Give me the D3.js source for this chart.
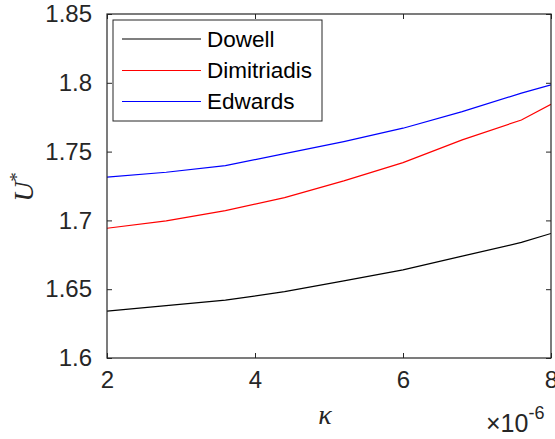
<!DOCTYPE html>
<html>
<head>
<meta charset="utf-8">
<script src="https://cdn.jsdelivr.net/npm/d3@7/dist/d3.min.js"></script>
<style>
  html, body { margin: 0; padding: 0; background: #fff; }
  svg { display: block; }
</style>
</head>
<body>
<svg id="chart" width="555" height="439"></svg>
<script>
// Critical speed U* versus kappa (values in units of 1e-6)
const kappa       = [2.0, 2.8, 3.6, 4.4, 5.2, 6.0, 6.8, 7.6, 8.0];
const dowell      = [1.6340, 1.6380, 1.6420, 1.6482, 1.6560, 1.6640, 1.6740, 1.6840, 1.6905];
const dimitriadis = [1.6943, 1.6996, 1.7071, 1.7166, 1.7287, 1.7420, 1.7585, 1.7730, 1.7844];
const edwards     = [1.7314, 1.7350, 1.7398, 1.7485, 1.7573, 1.7670, 1.7790, 1.7925, 1.7985];

const seriesNames  = ["Dowell", "Dimitriadis", "Edwards"];
const seriesColors = ["#000000", "#ff0000", "#0000ff"];
const seriesValues = [dowell, dimitriadis, edwards];

const xTicks = [2, 4, 6, 8];
const yTicks = [1.6, 1.65, 1.7, 1.75, 1.8, 1.85];
const xExponent = "-6";

(function draw() {
  const svg = d3.select("#chart");
  const axisColor = "#262626";

  const mLeft = 107, mRight = 551, mTop = 14, mBottom = 358;

  const x = d3.scaleLinear().domain([2, 8]).range([mLeft, mRight]);
  const y = d3.scaleLinear().domain([1.6, 1.85]).range([mBottom, mTop]);

  const font = "'Liberation Sans', Arial, Helvetica, sans-serif";
  const serif = "'Liberation Serif', 'Times New Roman', serif";

  // data lines (clipped to the axes box)
  svg.append("defs").append("clipPath").attr("id", "plotClip")
    .append("rect").attr("x", mLeft).attr("y", mTop)
    .attr("width", mRight - mLeft).attr("height", mBottom - mTop);

  const line = d3.line().x((d, i) => x(kappa[i])).y(d => y(d));
  const plot = svg.append("g").attr("clip-path", "url(#plotClip)");
  seriesValues.forEach((vals, k) => {
    plot.append("path")
      .datum(vals)
      .attr("d", line)
      .attr("fill", "none")
      .attr("stroke", seriesColors[k])
      .attr("stroke-width", 1.2);
  });

  // axes with inward ticks
  function styleAxis(g) {
    g.select(".domain").remove();
    g.selectAll(".tick line").attr("stroke", axisColor).attr("stroke-width", 1);
    g.selectAll(".tick text").attr("fill", axisColor)
      .style("font-family", font).style("font-size", "24px");
  }

  const gx = svg.append("g").attr("transform", `translate(0,${mBottom})`)
    .call(d3.axisBottom(x).tickValues(xTicks).tickFormat(d3.format("d"))
      .tickSizeInner(-5).tickSizeOuter(0).tickPadding(13));
  styleAxis(gx);
  gx.selectAll(".tick text").attr("dy", "0.71em");

  const gxTop = svg.append("g").attr("transform", `translate(0,${mTop})`)
    .call(d3.axisTop(x).tickValues(xTicks).tickFormat("").tickSizeInner(-5).tickSizeOuter(0));
  styleAxis(gxTop);

  const gy = svg.append("g").attr("transform", `translate(${mLeft},0)`)
    .call(d3.axisLeft(y).tickValues(yTicks).tickFormat(d => String(+d.toFixed(2)))
      .tickSizeInner(-5).tickSizeOuter(0).tickPadding(15));
  styleAxis(gy);

  const gyRight = svg.append("g").attr("transform", `translate(${mRight},0)`)
    .call(d3.axisRight(y).tickValues(yTicks).tickFormat("").tickSizeInner(-5).tickSizeOuter(0));
  styleAxis(gyRight);

  // box
  svg.append("rect")
    .attr("x", mLeft).attr("y", mTop)
    .attr("width", mRight - mLeft).attr("height", mBottom - mTop)
    .attr("fill", "none").attr("stroke", axisColor).attr("stroke-width", 1.2);

  // exponent label
  const expText = svg.append("text")
    .attr("x", 486).attr("y", 432)
    .attr("fill", axisColor)
    .style("font-family", font).style("font-size", "25px");
  expText.append("tspan").text("\u00d710");
  expText.append("tspan").attr("dy", -13).style("font-size", "18px").text(xExponent);

  // axis titles
  svg.append("text")
    .attr("x", 325).attr("y", 424)
    .attr("text-anchor", "middle")
    .attr("fill", axisColor)
    .style("font-family", serif).style("font-style", "italic").style("font-size", "28px")
    .text("\u03ba");

  const yLab = svg.append("text")
    .attr("transform", "translate(33,187) rotate(-90)")
    .attr("text-anchor", "middle")
    .attr("fill", axisColor)
    .style("font-family", serif).style("font-style", "italic").style("font-size", "28px");
  yLab.append("tspan").text("U");
  yLab.append("tspan").attr("dy", -10).style("font-size", "19px").style("font-style", "normal").text("*");

  // legend
  const lg = svg.append("g");
  lg.append("rect")
    .attr("x", 113).attr("y", 20).attr("width", 209).attr("height", 101)
    .attr("fill", "#fff").attr("stroke", axisColor).attr("stroke-width", 1);
  const rowY = [39, 70.5, 101.5];
  seriesNames.forEach((name, i) => {
    lg.append("line")
      .attr("x1", 122).attr("x2", 201).attr("y1", rowY[i]).attr("y2", rowY[i])
      .attr("stroke", seriesColors[i]).attr("stroke-width", 1.2);
    lg.append("text")
      .attr("x", 207).attr("y", rowY[i]).attr("dy", "0.35em")
      .attr("fill", "#000")
      .style("font-family", font).style("font-size", "22.5px")
      .text(name);
  });
})();
</script>
</body>
</html>
